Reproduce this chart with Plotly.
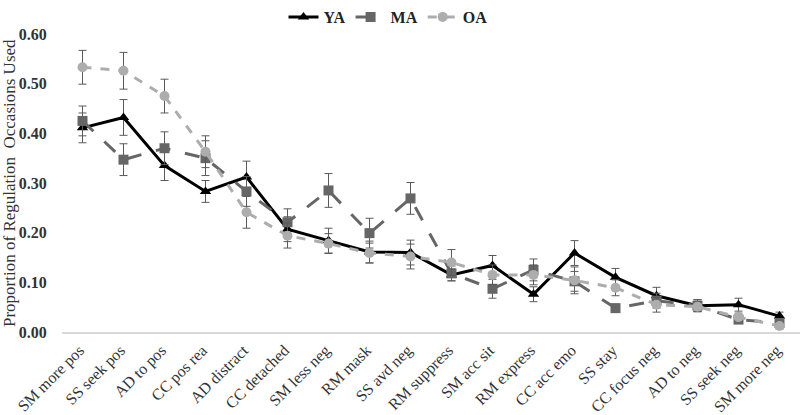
import plotly.graph_objects as go

categories = ["SM more pos", "SS seek pos", "AD to pos", "CC pos rea", "AD distract",
              "CC detached", "SM less neg", "RM mask", "SS avd neg", "RM suppress",
              "SM acc sit", "RM express", "CC acc emo", "SS stay", "CC focus neg",
              "AD to neg", "SS seek neg", "SM more neg"]

ya = [0.411, 0.432, 0.335, 0.283, 0.312, 0.207, 0.184, 0.161, 0.160, 0.115,
      0.134, 0.076, 0.159, 0.110, 0.073, 0.053, 0.055, 0.032]
ya_err = [0.030, 0.036, 0.030, 0.022, 0.032, 0.025, 0.025, 0.022, 0.025, 0.012,
          0.020, 0.015, 0.025, 0.018, 0.017, 0.012, 0.013, 0.008]

ma = [0.425, 0.347, 0.370, 0.350, 0.283, 0.221, 0.285, 0.199, 0.269, 0.118,
      0.087, 0.125, 0.102, 0.048, 0.063, 0.053, 0.025, 0.018]
ma_err = [0.030, 0.032, 0.033, 0.035, 0.030, 0.027, 0.034, 0.030, 0.032, 0.015,
          0.019, 0.022, 0.020, 0.008, 0.015, 0.012, 0.008, 0.008]

oa = [0.533, 0.526, 0.475, 0.363, 0.241, 0.194, 0.178, 0.159, 0.152, 0.140,
      0.115, 0.115, 0.104, 0.089, 0.055, 0.051, 0.030, 0.012]
oa_err = [0.034, 0.037, 0.034, 0.032, 0.032, 0.025, 0.020, 0.020, 0.025, 0.026,
          0.020, 0.020, 0.027, 0.016, 0.015, 0.010, 0.008, 0.006]

y_ticks = [0.0, 0.1, 0.2, 0.3, 0.4, 0.5, 0.6]
y_tick_text = ["0.00", "0.10", "0.20", "0.30", "0.40", "0.50", "0.60"]
y_title = "Proportion of Regulation  Occasions Used"

FONT = "Liberation Serif"
ERR_COLOR = "#5a5a5a"
L_MARGIN = 62
PLOT_W = 800 - L_MARGIN

fig = go.Figure()

fig.add_trace(go.Scatter(
    x=categories, y=ya, name="YA", mode="lines+markers",
    line=dict(color="#000000", width=3),
    marker=dict(symbol="triangle-up", size=10, color="#000000"),
    error_y=dict(type="data", array=ya_err, color=ERR_COLOR, thickness=1, width=4),
))
fig.add_trace(go.Scatter(
    x=categories, y=ma, name="MA", mode="lines+markers",
    line=dict(color="#666666", width=3, dash="longdash"),
    marker=dict(symbol="square", size=10, color="#666666"),
    error_y=dict(type="data", array=ma_err, color=ERR_COLOR, thickness=1, width=4),
))
fig.add_trace(go.Scatter(
    x=categories, y=oa, name="OA", mode="lines+markers",
    line=dict(color="#adadad", width=3, dash="dash"),
    marker=dict(symbol="circle", size=10, color="#adadad"),
    error_y=dict(type="data", array=oa_err, color=ERR_COLOR, thickness=1, width=4),
))

fig.add_annotation(
    text=y_title, textangle=-90, showarrow=False,
    xref="paper", yref="paper", x=-(L_MARGIN - 9) / PLOT_W, y=0.5,
    xanchor="center", yanchor="middle",
    font=dict(family=FONT, size=17, color="#333333"),
)

fig.update_layout(
    width=800, height=415,
    margin=dict(l=L_MARGIN, r=0, t=34, b=83, autoexpand=False),
    plot_bgcolor="white", paper_bgcolor="white",
    font=dict(family=FONT, size=16, color="#333333"),
    showlegend=True,
    legend=dict(orientation="h", xref="container", yref="container",
                x=0.485, xanchor="center", y=1.0, yanchor="top",
                font=dict(family=FONT, size=16, color="#222222", weight="bold"),
                itemwidth=30, tracegroupgap=0, bgcolor="rgba(0,0,0,0)"),
    xaxis=dict(
        type="category", tickangle=-45, showgrid=False, zeroline=False,
        showline=True, linecolor="#d9d9d9", linewidth=1.5,
        ticks="outside", ticklen=1, tickcolor="rgba(0,0,0,0)",
        ticklabelshift=-3,
        tickfont=dict(family=FONT, size=16, color="#333333"),
        range=[-0.5, 17.5], automargin=False,
    ),
    yaxis=dict(
        range=[0, 0.6], tickvals=y_ticks, ticktext=y_tick_text,
        showgrid=False, zeroline=False, showline=False,
        ticks="outside", ticklen=11, tickcolor="rgba(0,0,0,0)",
        automargin=False,
        tickfont=dict(family=FONT, size=16, color="#333333", weight="bold"),
    ),
)

fig.write_html("out.html", config={"displayModeBar": False},
               post_script="document.body.style.margin='0';")
